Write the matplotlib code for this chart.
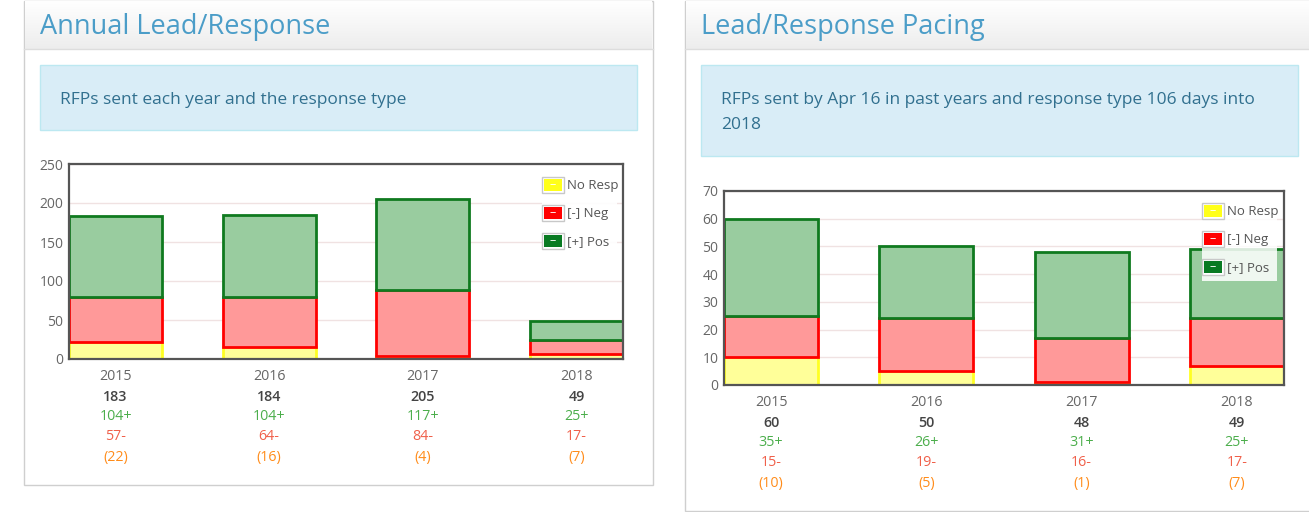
import numpy as np
import matplotlib
matplotlib.use("Agg")
import matplotlib.pyplot as plt
from matplotlib.patches import Rectangle

plt.rcParams['font.family'] = ['Open Sans', 'DejaVu Sans']

years = ['2015', '2016', '2017', '2018']

annual_pos = [104, 104, 117, 25]
annual_neg = [57, 64, 84, 17]
annual_none = [22, 16, 4, 7]

pacing_pos = [35, 26, 31, 25]
pacing_neg = [15, 19, 16, 17]
pacing_none = [10, 5, 1, 7]

W, H = 1309, 512
fig = plt.figure(figsize=(W / 100, H / 100), dpi=100)


def pixel_axes(z):
    a = fig.add_axes([0, 0, 1, 1], zorder=z)
    a.set_xlim(0, W)
    a.set_ylim(H, 0)
    a.axis('off')
    a.patch.set_alpha(0)
    return a


# background canvas in pixel coordinates
bg = pixel_axes(0)
top = pixel_axes(10)

grad = np.linspace(1.0, 0.93, 50).reshape(-1, 1)
grad = np.dstack([grad, grad, grad])


def panel(x0, x1, y1, title, info, info_w, info_h):
    bg.add_patch(Rectangle((x0, 0.5), x1 - x0, y1, fc='white', ec='#cfcfcf', lw=1))
    bg.imshow(grad, extent=(x0 + 1, x1 - 1, 49, 1), aspect='auto', zorder=2)
    bg.plot([x0, x1], [49, 49], color='#dddddd', lw=1, zorder=3)
    bg.text(x0 + 16, 27, title, fontsize=19.5, color='#4b9dc8', va='center', zorder=4)
    bg.add_patch(Rectangle((x0 + 16, 65), info_w, info_h,
                           fc='#d9edf7', ec='#bce8f1', lw=1, zorder=2))
    for k, line in enumerate(info):
        bg.text(x0 + 36, 100 + 25 * k, line, fontsize=12.5, color='#31708f', va='center', zorder=4)


panel(24, 653, 484, 'Annual Lead/Response', ['RFPs sent each year and the response type'], 597, 65)
panel(685, W + 5, 510, 'Lead/Response Pacing',
      ['RFPs sent by Apr 16 in past years and response type 106 days into', '2018'], 597, 91)
bg.set_xlim(0, W)
bg.set_ylim(H, 0)


def chart(left, right, top_px, bottom, ymax, step, pos, neg, none, leg_x, leg_y, leg_alpha):
    ax = fig.add_axes([left / W, 1 - bottom / H, (right - left) / W, (bottom - top_px) / H], zorder=5)
    ax.set_facecolor('none')
    x = np.arange(len(years))
    w = 0.606
    none = np.array(none)
    neg = np.array(neg)
    pos = np.array(pos)
    ax.bar(x, none, w, color='#ffff99', edgecolor='#ffff22', lw=2.0, zorder=3)
    ax.bar(x, neg, w, bottom=none, color='#ff9999', edgecolor='#ff0000', lw=2.0, zorder=3)
    ax.bar(x, pos, w, bottom=none + neg, color='#99cc9f', edgecolor='#0f7a1f', lw=2.0, zorder=3)
    ax.set_xlim(-w / 2, len(years) - 1 + w / 2)
    ax.set_ylim(0, ymax)
    ax.set_yticks(np.arange(0, ymax + 1, step))
    ax.tick_params(axis='y', length=0, pad=4, labelsize=10, labelcolor='#666666')
    ax.set_xticks([])
    ax.grid(axis='y', color='#f0e2e2', lw=1, zorder=0)
    for s in ax.spines.values():
        s.set_color('#555555')
        s.set_linewidth(1.6)
        s.set_zorder(5)

    total = none + neg + pos
    rows = [(years, '#666666', 'normal'),
            ([str(t) for t in total], '#444444', 'semibold'),
            (['%d+' % p for p in pos], '#4cae4c', 'normal'),
            (['%d-' % n for n in neg], '#f0604a', 'normal'),
            (['(%d)' % n for n in none], '#ff8c1a', 'normal')]
    for r, (labels, col, wt) in enumerate(rows):
        for i, lab in enumerate(labels):
            ax.annotate(lab, xy=(i, 0), xycoords=('data', 'axes fraction'),
                        xytext=(0, -(18 + 20 * r) * 0.72), textcoords='offset points',
                        ha='center', va='center', fontsize=10.3, color=col, fontweight=wt,
                        annotation_clip=False)

    # legend
    top.add_patch(Rectangle((leg_x, leg_y - 12), 75, 82, fc='white', ec='none',
                            alpha=leg_alpha, zorder=6))
    entries = [('No Resp', '#ffff1a'), ('[-] Neg', '#ff0000'), ('[+] Pos', '#087a22')]
    for k, (lab, col) in enumerate(entries):
        yy = leg_y + 28 * k
        top.add_patch(Rectangle((leg_x, yy - 8), 22, 16, fc='white', ec='#c8c8c8', lw=1, zorder=7))
        top.add_patch(Rectangle((leg_x + 2, yy - 6), 18, 12, fc=col, ec='none', zorder=8))
        top.text(leg_x + 11, yy - 0.5, '\u2013', color='white', fontsize=9, ha='center', va='center', zorder=9)
        top.text(leg_x + 25, yy + 1, lab, color='#555555', fontsize=9.5, va='center', zorder=9)
    return ax


chart(69, 623, 164, 359, 250, 50, annual_pos, annual_neg, annual_none, 542, 185, 0.9)
chart(724, 1284, 191, 385, 70, 10, pacing_pos, pacing_neg, pacing_none, 1202, 211, 0.85)

fig.savefig('out.png', dpi=100)
